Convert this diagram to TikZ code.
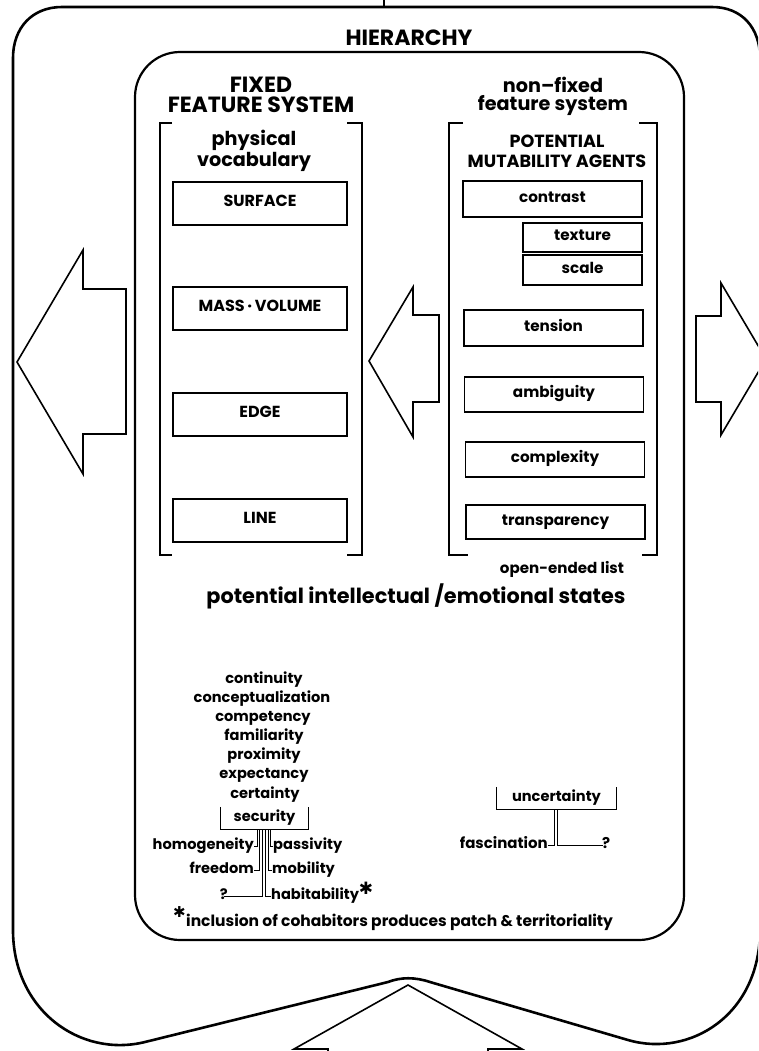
\documentclass[tikz,border=0pt]{standalone}
\usepackage{fontspec}
\setmainfont{Poppins}
\newfontfamily\symfont{DejaVu Sans}
\newcommand\myfs[2]{\fontsize{#1}{#2}\selectfont}
\begin{document}
\begin{tikzpicture}[x=1pt,y=-1pt,
 outerline/.style={line width=2.6pt,line join=round},
 innerline/.style={line width=2.2pt},
 fbox/.style={draw,line width=1.8pt,inner sep=0pt,text height=1.5ex,text depth=.25ex},
 capsbox/.style={fbox,font=\bfseries\myfs{16}{16}},
 lowbox/.style={fbox,font=\bfseries\myfs{15.2}{15.2}},
 brk/.style={line width=1.2pt},
 arrowshape/.style={line width=1.6pt,line join=miter},
 title/.style={inner sep=0pt,align=center,font=\bfseries\myfs{22}{20}},
 sub/.style={inner sep=0pt,align=center,font=\bfseries\myfs{19.2}{18}},
 capsub/.style={inner sep=0pt,align=center,font=\bfseries\myfs{17.6}{20}},
 word/.style={inner sep=0pt,text height=1.5ex,text depth=.25ex,font=\bfseries\myfs{14.6}{15}},
 tree/.style={line width=0.9pt},
 bracketbox/.style={inner sep=0pt,text height=1.5ex,text depth=.25ex,font=\bfseries\myfs{14.6}{15}},
 star/.style={inner sep=0pt,font=\symfont\bfseries\myfs{15}{15}},
]
\useasboundingbox (0,0) rectangle (758,1051);
\clip (0,0) rectangle (758,1051);

% outer shape
\draw[outerline] (62,7) -- (712,7) .. controls (742,7) and (760,28) .. (760,58)
  -- (760,930) .. controls (760,1015) and (690,1058) .. (628,1040)
  -- (430,982) .. controls (415,977) and (401,977) .. (388,982)
  -- (145,1042) .. controls (80,1058) and (13,1010) .. (13,930)
  -- (13,58) .. controls (13,28) and (32,7) .. (62,7) -- cycle;
\draw[line width=2pt] (384,0) -- (384,7);

\node[title] (hier) at (409,38) {HIERARCHY};

% inner box
\draw[innerline, rounded corners=45pt] (135,52) rectangle (684,940);

% headings
\node[title] (fixed) at (261,95) {FIXED\\FEATURE SYSTEM};
\node[sub] (nonfixed) at (553,96) {non–fixed\\feature system};

% left bracket
\draw[brk] (172,123) -- (160,123) -- (160,555) -- (172,555);
\draw[brk] (347,123) -- (362,123) -- (362,555) -- (347,555);
% right bracket
\draw[brk] (463,123) -- (449,123) -- (449,555) -- (468,555);
\draw[brk] (639,123) -- (657,123) -- (657,555) -- (642,555);

\node[sub] (phys) at (254,151) {physical\\vocabulary};
\node[capsub] (pma) at (557,151) {POTENTIAL\\MUTABILITY AGENTS};

% left boxes
\node[capsbox, minimum width=174pt, minimum height=43pt] (surface) at (260,203.5) {SURFACE};
\node[capsbox, minimum width=174pt, minimum height=43pt] (mass) at (260,308.5) {MASS\,·\,VOLUME};
\node[capsbox, minimum width=174pt, minimum height=43pt] (edge) at (260,414.5) {EDGE};
\node[capsbox, minimum width=174pt, minimum height=43pt] (line) at (260,520.5) {LINE};

% right boxes
\node[lowbox, minimum width=179pt, minimum height=36pt] (contrast) at (552.5,199) {contrast};
\node[lowbox, minimum width=119pt, minimum height=29pt] (texture) at (582.5,237.5) {texture};
\node[lowbox, minimum width=119pt, minimum height=30pt] (scale) at (582.5,270) {scale};
\node[lowbox, minimum width=179pt, minimum height=36pt] (tension) at (553.5,328) {tension};
\node[lowbox, minimum width=179pt, minimum height=35pt] (ambig) at (554,394.5) {ambiguity};
\node[lowbox, minimum width=179pt, minimum height=35pt] (complex) at (555,459.5) {complexity};
\node[lowbox, minimum width=179pt, minimum height=34pt] (transp) at (555.5,522) {transparency};

\node[word, font=\bfseries\myfs{15.1}{15}] (open) at (562,570) {open-ended list};

% arrows
\draw[arrowshape] (83,250) -- (83,289) -- (126,289) -- (126,434) -- (83,434) -- (83,474) -- (17,362) -- cycle;
\draw[arrowshape] (413,287) -- (413,315) -- (439,315) -- (439,402) -- (413,402) -- (413,437) -- (369,361) -- cycle;
\draw[arrowshape] (721,283) -- (766,359) -- (721,435) -- (721,402) -- (696,402) -- (696,316) -- (721,316) -- cycle;
\draw[arrowshape] (328,1060) -- (328,1049) -- (294,1049) -- (408,985) -- (522,1049) -- (488,1049) -- (488,1060);

% states
\node[inner sep=0pt, text height=1.5ex, text depth=.25ex, font=\bfseries\myfs{20.8}{20}] (states) at (416,600) {potential intellectual /emotional states};

\node[word] (w1) at (264,680) {continuity};
\node[word] (w2) at (262,699) {conceptualization};
\node[word] (w3) at (263,718) {competency};
\node[word] (w4) at (264,737) {familiarity};
\node[word] (w5) at (264,756) {proximity};
\node[word] (w6) at (264,775) {expectancy};
\node[word] (w7) at (265,795) {certainty};

\node[bracketbox, minimum width=87pt, minimum height=22pt] (sec) at (264.5,818) {security};
\draw[brk] (sec.north west) -- (sec.south west) -- (sec.south east) -- (sec.north east);

\node[word, anchor=east] (homog) at (254,846) {homogeneity};
\node[word, anchor=west] (passiv) at (273,846) {passivity};
\node[word, anchor=east] (freedom) at (254,870) {freedom};
\node[word, anchor=west] (mobil) at (272,870) {mobility};
\node[word, anchor=east] (q1) at (228,896) {?};
\node[word, anchor=west] (habit) at (271,896) {habitability};
\node[star, font=\symfont\bfseries\myfs{17}{17}] (star1) at (366,888) {✱};

\draw[tree] (sec.south) ++(-7.5,0) |- (homog.east);
\draw[tree] (sec.south) ++(-5,0) |- (freedom.east);
\draw[tree] (sec.south) ++(-2.5,0) |- ([xshift=-4pt]q1.east);
\draw[tree] (sec.south) ++(1,0) |- (habit.west);
\draw[tree] (sec.south) ++(3.5,0) |- (mobil.west);
\draw[tree] (sec.south) ++(6,0) |- (passiv.west);

\node[bracketbox, minimum width=119pt, minimum height=22pt] (unc) at (556.5,798) {uncertainty};
\draw[brk] (unc.north west) -- (unc.south west) -- (unc.south east) -- (unc.north east);
\node[word, font=\bfseries\myfs{15}{15}, anchor=east] (fasc) at (548,845) {fascination};
\node[word, font=\bfseries\myfs{15}{15}, anchor=west] (q2) at (602,845) {?};
\draw[tree] (unc.south) ++(-2.5,0) |- (fasc.east);
\draw[tree] (unc.south) ++(0.5,0) |- ([xshift=1pt]q2.west);

\node[word, anchor=west, font=\bfseries\myfs{15.5}{15}] (foot) at (186,923) {inclusion of cohabitors produces patch \& territoriality};
\node[star] (star2) at (179.5,912) {✱};
\end{tikzpicture}
\end{document}
